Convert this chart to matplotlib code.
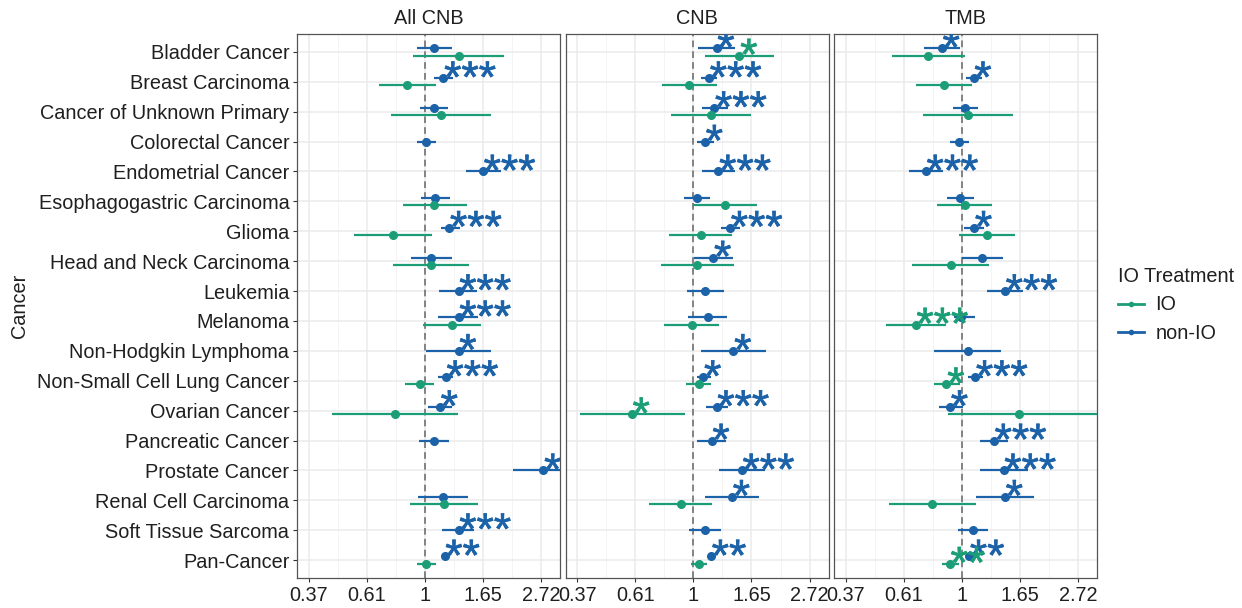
import numpy as np
import matplotlib.pyplot as plt
import matplotlib.transforms as mtransforms
import matplotlib.patheffects as pe
from matplotlib.lines import Line2D

plt.rcParams['font.family'] = ['Liberation Sans', 'DejaVu Sans']

nan = np.nan

cancers = ["Bladder Cancer", "Breast Carcinoma", "Cancer of Unknown Primary",
           "Colorectal Cancer", "Endometrial Cancer", "Esophagogastric Carcinoma",
           "Glioma", "Head and Neck Carcinoma", "Leukemia", "Melanoma",
           "Non-Hodgkin Lymphoma", "Non-Small Cell Lung Cancer", "Ovarian Cancer",
           "Pancreatic Cancer", "Prostate Cancer", "Renal Cell Carcinoma",
           "Soft Tissue Sarcoma", "Pan-Cancer"]
panels = ["All CNB", "CNB", "TMB"]

# log odds ratios with 95% CI, non-IO treated patients
all_cnb_nonio_est = [0.08, 0.16, 0.075, 0.011, 0.50, 0.09, 0.21, 0.052, 0.29, 0.29, 0.29, 0.18, 0.13, 0.078, 1.02, 0.16, 0.29, 0.17]
all_cnb_nonio_lo = [-0.07, 0.08, -0.04, -0.07, 0.35, -0.03, 0.135, -0.12, 0.12, 0.115, 0.01, 0.115, 0.03, -0.05, 0.76, -0.06, 0.15, 0.15]
all_cnb_nonio_hi = [0.23, 0.24, 0.195, 0.095, 0.655, 0.22, 0.30, 0.233, 0.445, 0.46, 0.57, 0.245, 0.236, 0.21, 1.35, 0.374, 0.425, 0.19]
all_cnb_nonio_sig = ["", "***", "", "", "***", "", "***", "", "***", "***", "*", "***", "*", "", "***", "", "***", "**"]

cnb_nonio_est = [0.20, 0.135, 0.18, 0.10, 0.216, 0.029, 0.316, 0.172, 0.10, 0.124, 0.345, 0.086, 0.20, 0.158, 0.417, 0.333, 0.103, 0.152]
cnb_nonio_lo = [0.043, 0.063, 0.072, 0.029, 0.072, -0.078, 0.236, 0.009, -0.052, -0.043, 0.069, 0.029, 0.107, 0.034, 0.221, 0.103, -0.034, 0.13]
cnb_nonio_hi = [0.359, 0.201, 0.302, 0.178, 0.359, 0.144, 0.402, 0.339, 0.264, 0.293, 0.627, 0.15, 0.302, 0.282, 0.618, 0.563, 0.241, 0.175]
cnb_nonio_sig = ["*", "***", "***", "*", "***", "", "***", "*", "", "", "*", "*", "***", "*", "***", "*", "", "**"]

tmb_nonio_est = [-0.172, 0.101, 0.029, -0.023, -0.31, -0.014, 0.106, 0.172, 0.371, -0.003, 0.049, 0.115, -0.101, 0.276, 0.359, 0.371, 0.092, 0.063]
tmb_nonio_lo = [-0.325, 0.034, -0.078, -0.103, -0.454, -0.129, 0.02, 0.0, 0.213, -0.066, -0.239, 0.057, -0.195, 0.155, 0.158, 0.126, -0.037, 0.045]
tmb_nonio_hi = [-0.017, 0.172, 0.143, 0.063, -0.158, 0.101, 0.192, 0.35, 0.529, 0.112, 0.336, 0.178, 0.006, 0.399, 0.569, 0.621, 0.227, 0.08]
tmb_nonio_sig = ["*", "*", "", "", "***", "", "*", "", "***", "", "", "***", "*", "***", "***", "*", "", "**"]

# log odds ratios with 95% CI, IO treated patients
all_cnb_io_est = [0.29, -0.15, 0.14, nan, nan, 0.083, -0.27, 0.057, nan, 0.236, nan, -0.04, -0.256, nan, nan, 0.164, nan, 0.009]
all_cnb_io_lo = [-0.106, -0.394, -0.287, nan, nan, -0.187, -0.606, -0.273, nan, -0.014, nan, -0.167, -0.796, nan, nan, -0.129, nan, -0.066]
all_cnb_io_hi = [0.684, 0.10, 0.566, nan, nan, 0.359, 0.06, 0.382, nan, 0.483, nan, 0.08, 0.282, nan, nan, 0.46, nan, 0.092]
all_cnb_io_sig = [""] * 18

cnb_io_est = [0.397, -0.034, 0.152, nan, nan, 0.27, 0.063, 0.029, nan, -0.014, nan, 0.046, -0.529, nan, nan, -0.109, nan, 0.046]
cnb_io_lo = [0.101, -0.273, -0.195, nan, nan, 0.0, -0.21, -0.281, nan, -0.253, nan, -0.063, -0.971, nan, nan, -0.379, nan, -0.022]
cnb_io_hi = [0.69, 0.201, 0.497, nan, nan, 0.546, 0.336, 0.348, nan, 0.221, nan, 0.153, -0.072, nan, nan, 0.158, nan, 0.115]
cnb_io_sig = ["*", "", "", "", "", "", "", "", "", "", "", "", "*", "", "", "", "", ""]

tmb_io_est = [-0.287, -0.152, 0.055, nan, nan, 0.023, 0.218, -0.095, nan, -0.397, nan, -0.132, 0.494, nan, nan, -0.253, nan, -0.103]
tmb_io_lo = [-0.598, -0.391, -0.333, nan, nan, -0.21, -0.023, -0.426, nan, -0.65, nan, -0.239, -0.118, nan, nan, -0.627, nan, -0.172]
tmb_io_hi = [0.029, 0.086, 0.44, nan, nan, 0.259, 0.454, 0.236, nan, -0.132, nan, -0.017, 1.4, nan, nan, 0.126, nan, -0.023]
tmb_io_sig = ["", "", "", "", "", "", "", "", "", "***", "", "*", "", "", "", "", "", "**"]

x_ticks = [-1, -0.5, 0, 0.5, 1]
x_tick_labels = ["0.37", "0.61", "1", "1.65", "2.72"]

green = "#1b9e77"
blue = "#1c62a8"
text_col = "#1f1f1f"

nonio = {
    "All CNB": (all_cnb_nonio_est, all_cnb_nonio_lo, all_cnb_nonio_hi, all_cnb_nonio_sig),
    "CNB": (cnb_nonio_est, cnb_nonio_lo, cnb_nonio_hi, cnb_nonio_sig),
    "TMB": (tmb_nonio_est, tmb_nonio_lo, tmb_nonio_hi, tmb_nonio_sig),
}
io = {
    "All CNB": (all_cnb_io_est, all_cnb_io_lo, all_cnb_io_hi, all_cnb_io_sig),
    "CNB": (cnb_io_est, cnb_io_lo, cnb_io_hi, cnb_io_sig),
    "TMB": (tmb_io_est, tmb_io_lo, tmb_io_hi, tmb_io_sig),
}

fig = plt.figure(figsize=(12.42, 6.08), dpi=100)
W, H = 1242, 608
rows = np.arange(len(cancers))[::-1]  # Bladder at the top
dodge = 0.12

for k, name in enumerate(panels):
    left = 297 + k * 268.5
    ax = fig.add_axes([left / W, 1 - 578 / H, 263 / W, 544 / H])
    ax.set_xlim(-1.10, 1.163)
    ax.set_ylim(-0.6, len(cancers) - 0.4)

    ax.set_xticks(x_ticks)
    ax.set_xticklabels(x_tick_labels)
    ax.set_xticks([-0.75, -0.25, 0.25, 0.75], minor=True)
    ax.set_yticks(rows)
    ax.tick_params(which="major", labelsize=14.3, colors="#333333", labelcolor=text_col,
                   length=3, width=0.8, pad=2.5)
    ax.tick_params(which="minor", length=0)
    if k == 0:
        ax.set_yticklabels(cancers)
    else:
        ax.set_yticklabels([])
        ax.tick_params(axis="y", length=0)
    ax.grid(which="major", color="#ebebeb", lw=1.1, zorder=0)
    ax.grid(which="minor", axis="x", color="#f3f3f3", lw=0.6, zorder=0)
    ax.set_axisbelow(True)
    for sp in ax.spines.values():
        sp.set_color("#555555")
        sp.set_linewidth(0.9)

    ax.axvline(0, color="#707070", ls=(0, (4, 2.5)), lw=1.2, zorder=1)
    ax.set_title(name, fontsize=14.3, color=text_col, pad=7)

    b_est, b_lo, b_hi, b_sig = nonio[name]
    g_est, g_lo, g_hi, g_sig = io[name]
    has_io = ~np.isnan(np.array(g_est, dtype=float))
    y_blue = rows + np.where(has_io, dodge, 0.0)
    y_green = rows - dodge

    # point ranges
    for y, e, lo, hi in zip(y_blue, b_est, b_lo, b_hi):
        ax.plot([lo, hi], [y, y], color=blue, lw=1.6, solid_capstyle="butt", zorder=3)
        ax.plot(e, y, "o", color=blue, ms=5.5, zorder=4)
    for y, e, lo, hi in zip(y_green, g_est, g_lo, g_hi):
        if np.isnan(e):
            continue
        ax.plot([lo, hi], [y, y], color=green, lw=1.6, solid_capstyle="butt", zorder=3)
        ax.plot(e, y, "o", color=green, ms=5.5, zorder=4)

    # significance stars next to the estimate
    star_tr = mtransforms.offset_copy(ax.transData, fig=fig, x=0.5, y=-10, units="points")
    for y, e, s in zip(y_blue, b_est, b_sig):
        if s:
            ax.text(e, y, s, transform=star_tr, fontsize=32, color=blue,
                    ha="left", va="baseline", clip_on=True, zorder=5,
                    path_effects=[pe.withStroke(linewidth=0.5, foreground=blue)])
    for y, e, s in zip(y_green, g_est, g_sig):
        if s:
            ax.text(e, y, s, transform=star_tr, fontsize=32, color=green,
                    ha="left", va="baseline", clip_on=True, zorder=6,
                    path_effects=[pe.withStroke(linewidth=0.5, foreground=green)])

fig.text(20 / W, 1 - 306 / H, "Cancer", rotation=90, fontsize=14.3,
         color=text_col, ha="center", va="center")

handles = [Line2D([], [], color=green, marker="o", ms=3, lw=2),
           Line2D([], [], color=blue, marker="o", ms=3, lw=2)]
leg = fig.legend(handles, ["IO", "non-IO"], title="IO Treatment",
                 loc="center left", bbox_to_anchor=(1100 / W, 1 - 305 / H),
                 frameon=False, fontsize=14.3, title_fontsize=14.3,
                 handlelength=1.3, handletextpad=0.6, labelspacing=0.5,
                 alignment="left")
for t in leg.get_texts():
    t.set_color(text_col)
leg.get_title().set_color(text_col)

fig.savefig("out.png", dpi=100)
